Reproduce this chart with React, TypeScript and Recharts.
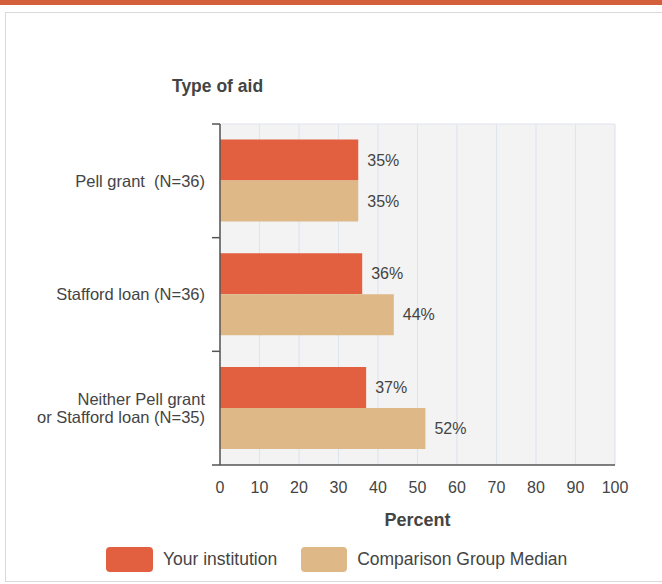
import { BarChart, Bar, XAxis, YAxis, CartesianGrid, LabelList } from 'recharts';

const categories = ['Pell grant  (N=36)', 'Stafford loan (N=36)', 'Neither Pell grant\nor Stafford loan (N=35)'];
const institution = [35, 36, 37];
const comparison = [35, 44, 52];
const xTicks = [0, 10, 20, 30, 40, 50, 60, 70, 80, 90, 100];

const RED = '#e2603f';
const TAN = '#deb887';
const AXIS = '#555';
const TEXT = '#444';
const FONT = '"Liberation Sans", Arial, sans-serif';
const Y_MARGIN = 15;

const data = categories.map((name, i) => ({
  name,
  institution: institution[i],
  comparison: comparison[i],
}));

// category label plus the little tick marks on the band edges
function CategoryTick({ x, y, payload, index, visibleTicksCount }: any) {
  const lines = String(payload.value).split('\n');
  const lh = 17.5;
  const start = y - ((lines.length - 1) * lh) / 2;
  const half = payload.offset || 0;
  const ax = x + Y_MARGIN;
  const last = index === (visibleTicksCount ?? categories.length) - 1;
  return (
    <g>
      <line x1={ax - 8} x2={ax} y1={y - half} y2={y - half} stroke={AXIS} strokeWidth={1.5} />
      {last && <line x1={ax - 8} x2={ax} y1={y + half} y2={y + half} stroke={AXIS} strokeWidth={1.5} />}
      <text x={x} y={start} textAnchor="end" fill={TEXT} fontSize={16.5} fontFamily={FONT} style={{ whiteSpace: 'pre' }}>
        {lines.map((l, i) => (
          <tspan key={i} x={x} y={start + i * lh} dy="0.35em">
            {l}
          </tspan>
        ))}
      </text>
    </g>
  );
}

export default function App() {
  return (
    <div style={{ position: 'absolute', left: 0, top: 0, width: 662, height: 584, overflow: 'hidden', background: '#fff', fontFamily: FONT }}>
      <div style={{ position: 'absolute', left: 0, top: 0, width: 662, height: 5, background: '#d35f3b' }} />
      <div style={{ position: 'absolute', left: 5, top: 12, width: 700, height: 568, border: '1.5px solid #d9d9d9' }} />
      <div style={{ position: 'absolute', left: 172, top: 76, fontSize: 17.5, fontWeight: 700, color: TEXT }}>Type of aid</div>

      <div style={{ position: 'absolute', left: 0, top: 0 }}>
        <BarChart
          width={662}
          height={584}
          data={data}
          layout="vertical"
          margin={{ top: 124, right: 47, bottom: 89, left: 0 }}
          barCategoryGap="13.7%"
          barGap={0}
        >
          <CartesianGrid
            horizontal={true}
            horizontalPoints={[124]}
            stroke="#dfe4ee"
            strokeWidth={1.2}
            fill="#f3f3f3"
          />
          <XAxis
            type="number"
            domain={[0, 100]}
            ticks={xTicks}
            interval={0}
            tickLine={false}
            tickSize={0}
            axisLine={{ stroke: AXIS, strokeWidth: 1.5 }}
            tick={{ fill: TEXT, fontSize: 16, fontFamily: FONT }}
            tickMargin={17}
            height={30}
            label={{ value: 'Percent', position: 'bottom', offset: 18, fill: TEXT, fontSize: 18, fontWeight: 700, fontFamily: FONT }}
          />
          <YAxis
            type="category"
            dataKey="name"
            width={220}
            tickLine={false}
            axisLine={{ stroke: AXIS, strokeWidth: 1.5 }}
            tickSize={0}
            tickMargin={Y_MARGIN}
            interval={0}
            tick={<CategoryTick />}
          />
          <Bar dataKey="institution" fill={RED} isAnimationActive={false}>
            <LabelList dataKey="institution" position="right" offset={9} formatter={(v: any) => `${v}%`} fill={TEXT} fontSize={16} fontFamily={FONT} />
          </Bar>
          <Bar dataKey="comparison" fill={TAN} isAnimationActive={false}>
            <LabelList dataKey="comparison" position="right" offset={9} formatter={(v: any) => `${v}%`} fill={TEXT} fontSize={16} fontFamily={FONT} />
          </Bar>
        </BarChart>
      </div>

      <div style={{ position: 'absolute', left: 106, top: 547, display: 'flex', alignItems: 'center', fontSize: 17.5, color: TEXT }}>
        <span style={{ display: 'inline-block', width: 47, height: 25, borderRadius: 4, background: RED }} />
        <span style={{ marginLeft: 10 }}>Your institution</span>
        <span style={{ display: 'inline-block', width: 46, height: 25, borderRadius: 4, background: TAN, marginLeft: 24 }} />
        <span style={{ marginLeft: 10 }}>Comparison Group Median</span>
      </div>
    </div>
  );
}
